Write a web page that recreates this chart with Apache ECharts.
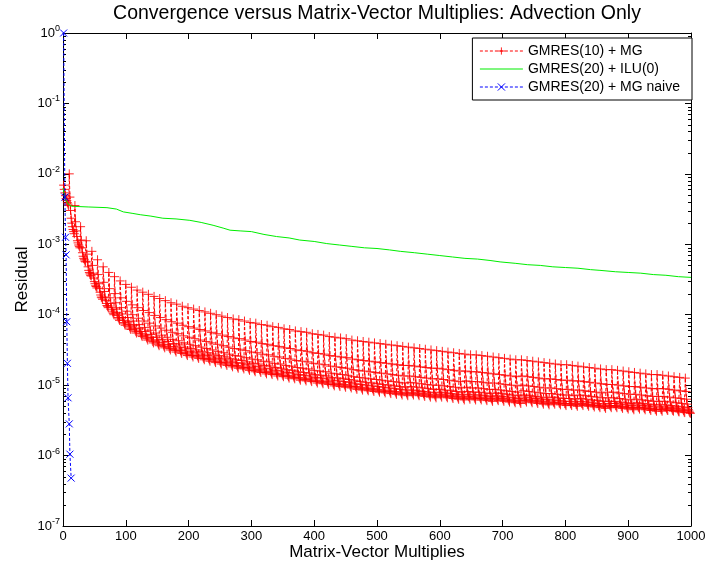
<!DOCTYPE html>
<html>
<head>
<meta charset="utf-8">
<script src="https://cdn.jsdelivr.net/npm/echarts@6/dist/echarts.min.js"></script>
<style>
  html, body { margin: 0; padding: 0; background: #ffffff; overflow: hidden; }
  #chart { width: 706px; height: 571px; }
</style>
</head>
<body>
<div id="chart"></div>
<script>
// GMRES(10) + MG: log10 of the residual, one row per restart cycle
// (each row holds the matrix-vector multiplies of that cycle, in order).
const mgRestartLength = 9;
const mgResidualLog10 = [
  [-2.16,-2.22,-2.27,-2.31,-2.35,-2.38,-2.41,-2.43,-2.45],
  [-2.00,-2.33,-2.52,-2.63,-2.70,-2.75,-2.79,-2.82,-2.85],
  [-2.45,-2.68,-2.81,-2.89,-2.95,-2.98,-3.01,-3.03,-3.05],
  [-2.75,-2.94,-3.05,-3.12,-3.17,-3.20,-3.22,-3.24,-3.25],
  [-2.95,-3.14,-3.25,-3.32,-3.37,-3.40,-3.42,-3.44,-3.45],
  [-3.10,-3.30,-3.41,-3.48,-3.53,-3.56,-3.59,-3.60,-3.62],
  [-3.22,-3.43,-3.56,-3.63,-3.68,-3.72,-3.75,-3.76,-3.78],
  [-3.32,-3.54,-3.67,-3.75,-3.80,-3.84,-3.87,-3.88,-3.90],
  [-3.40,-3.63,-3.76,-3.84,-3.90,-3.93,-3.96,-3.98,-4.00],
  [-3.46,-3.70,-3.83,-3.92,-3.97,-4.01,-4.04,-4.06,-4.08],
  [-3.52,-3.76,-3.90,-3.99,-4.04,-4.08,-4.11,-4.13,-4.15],
  [-3.57,-3.81,-3.95,-4.04,-4.10,-4.14,-4.17,-4.19,-4.21],
  [-3.61,-3.86,-4.00,-4.09,-4.15,-4.19,-4.22,-4.24,-4.26],
  [-3.65,-3.90,-4.05,-4.14,-4.20,-4.24,-4.27,-4.29,-4.31],
  [-3.68,-3.94,-4.09,-4.18,-4.24,-4.29,-4.32,-4.34,-4.36],
  [-3.71,-3.97,-4.12,-4.22,-4.28,-4.32,-4.36,-4.38,-4.40],
  [-3.74,-4.01,-4.16,-4.26,-4.32,-4.36,-4.40,-4.42,-4.44],
  [-3.77,-4.04,-4.19,-4.29,-4.35,-4.39,-4.43,-4.45,-4.47],
  [-3.80,-4.07,-4.22,-4.32,-4.38,-4.42,-4.46,-4.48,-4.50],
  [-3.83,-4.10,-4.25,-4.35,-4.41,-4.45,-4.49,-4.51,-4.53],
  [-3.85,-4.12,-4.27,-4.37,-4.43,-4.47,-4.51,-4.53,-4.55],
  [-3.88,-4.15,-4.30,-4.40,-4.46,-4.50,-4.54,-4.56,-4.58],
  [-3.90,-4.17,-4.32,-4.42,-4.48,-4.52,-4.56,-4.58,-4.60],
  [-3.92,-4.19,-4.34,-4.44,-4.50,-4.54,-4.58,-4.60,-4.62],
  [-3.94,-4.21,-4.36,-4.46,-4.52,-4.56,-4.60,-4.62,-4.64],
  [-3.96,-4.23,-4.38,-4.48,-4.54,-4.58,-4.62,-4.64,-4.66],
  [-3.98,-4.25,-4.40,-4.50,-4.56,-4.60,-4.64,-4.66,-4.68],
  [-4.00,-4.27,-4.42,-4.52,-4.58,-4.62,-4.66,-4.68,-4.70],
  [-4.02,-4.29,-4.44,-4.54,-4.60,-4.64,-4.68,-4.70,-4.72],
  [-4.04,-4.31,-4.46,-4.56,-4.62,-4.66,-4.70,-4.72,-4.74],
  [-4.06,-4.33,-4.48,-4.58,-4.64,-4.68,-4.72,-4.74,-4.76],
  [-4.07,-4.34,-4.49,-4.59,-4.65,-4.69,-4.73,-4.75,-4.77],
  [-4.09,-4.36,-4.51,-4.61,-4.67,-4.71,-4.75,-4.77,-4.79],
  [-4.11,-4.38,-4.53,-4.63,-4.69,-4.73,-4.77,-4.79,-4.81],
  [-4.12,-4.39,-4.54,-4.64,-4.70,-4.74,-4.78,-4.80,-4.82],
  [-4.14,-4.41,-4.56,-4.66,-4.72,-4.76,-4.80,-4.82,-4.84],
  [-4.15,-4.42,-4.57,-4.67,-4.73,-4.77,-4.81,-4.83,-4.85],
  [-4.17,-4.44,-4.59,-4.69,-4.75,-4.79,-4.83,-4.85,-4.87],
  [-4.18,-4.45,-4.60,-4.70,-4.76,-4.80,-4.84,-4.86,-4.88],
  [-4.20,-4.47,-4.62,-4.72,-4.78,-4.82,-4.86,-4.88,-4.90],
  [-4.21,-4.48,-4.63,-4.73,-4.79,-4.83,-4.87,-4.89,-4.91],
  [-4.23,-4.50,-4.65,-4.75,-4.81,-4.85,-4.89,-4.91,-4.93],
  [-4.24,-4.51,-4.66,-4.76,-4.82,-4.86,-4.90,-4.92,-4.94],
  [-4.25,-4.52,-4.67,-4.77,-4.83,-4.87,-4.91,-4.93,-4.95],
  [-4.27,-4.54,-4.69,-4.79,-4.85,-4.89,-4.93,-4.95,-4.97],
  [-4.28,-4.55,-4.70,-4.80,-4.86,-4.90,-4.94,-4.96,-4.98],
  [-4.29,-4.56,-4.71,-4.81,-4.87,-4.91,-4.95,-4.97,-4.99],
  [-4.31,-4.58,-4.73,-4.83,-4.89,-4.93,-4.97,-4.99,-5.01],
  [-4.32,-4.59,-4.74,-4.84,-4.90,-4.94,-4.98,-5.00,-5.02],
  [-4.33,-4.60,-4.75,-4.85,-4.91,-4.95,-4.99,-5.01,-5.03],
  [-4.34,-4.61,-4.76,-4.86,-4.92,-4.96,-5.00,-5.02,-5.04],
  [-4.36,-4.63,-4.78,-4.88,-4.94,-4.98,-5.02,-5.04,-5.06],
  [-4.37,-4.64,-4.79,-4.89,-4.95,-4.99,-5.03,-5.05,-5.07],
  [-4.38,-4.65,-4.80,-4.90,-4.96,-5.00,-5.04,-5.06,-5.08],
  [-4.39,-4.66,-4.81,-4.91,-4.97,-5.01,-5.05,-5.07,-5.09],
  [-4.40,-4.67,-4.82,-4.92,-4.98,-5.02,-5.06,-5.08,-5.10],
  [-4.41,-4.68,-4.83,-4.93,-4.99,-5.03,-5.07,-5.09,-5.11],
  [-4.42,-4.69,-4.84,-4.94,-5.00,-5.04,-5.08,-5.10,-5.12],
  [-4.43,-4.70,-4.85,-4.95,-5.01,-5.05,-5.09,-5.11,-5.13],
  [-4.44,-4.71,-4.86,-4.96,-5.02,-5.06,-5.10,-5.12,-5.14],
  [-4.45,-4.72,-4.87,-4.97,-5.03,-5.07,-5.11,-5.13,-5.15],
  [-4.46,-4.72,-4.87,-4.96,-5.02,-5.07,-5.10,-5.12,-5.14],
  [-4.47,-4.73,-4.88,-4.97,-5.03,-5.08,-5.11,-5.13,-5.15],
  [-4.48,-4.74,-4.89,-4.98,-5.04,-5.09,-5.12,-5.14,-5.16],
  [-4.49,-4.75,-4.90,-4.99,-5.05,-5.10,-5.13,-5.15,-5.17],
  [-4.50,-4.76,-4.91,-5.00,-5.06,-5.11,-5.14,-5.16,-5.18],
  [-4.51,-4.76,-4.91,-5.00,-5.06,-5.10,-5.13,-5.15,-5.17],
  [-4.52,-4.77,-4.92,-5.01,-5.07,-5.11,-5.14,-5.16,-5.18],
  [-4.53,-4.78,-4.93,-5.02,-5.08,-5.12,-5.15,-5.17,-5.19],
  [-4.54,-4.79,-4.94,-5.03,-5.09,-5.13,-5.16,-5.18,-5.20],
  [-4.55,-4.80,-4.95,-5.04,-5.10,-5.14,-5.17,-5.19,-5.21],
  [-4.56,-4.80,-4.94,-5.03,-5.09,-5.13,-5.16,-5.18,-5.20],
  [-4.57,-4.81,-4.95,-5.04,-5.10,-5.14,-5.17,-5.19,-5.21],
  [-4.57,-4.81,-4.95,-5.04,-5.10,-5.14,-5.17,-5.19,-5.21],
  [-4.58,-4.82,-4.96,-5.05,-5.11,-5.15,-5.18,-5.20,-5.22],
  [-4.59,-4.83,-4.97,-5.06,-5.12,-5.16,-5.19,-5.21,-5.23],
  [-4.60,-4.84,-4.97,-5.06,-5.11,-5.15,-5.18,-5.20,-5.22],
  [-4.61,-4.85,-4.98,-5.07,-5.12,-5.16,-5.19,-5.21,-5.23],
  [-4.62,-4.86,-4.99,-5.08,-5.13,-5.17,-5.20,-5.22,-5.24],
  [-4.63,-4.87,-5.00,-5.09,-5.14,-5.18,-5.21,-5.23,-5.25],
  [-4.64,-4.88,-5.01,-5.10,-5.15,-5.19,-5.22,-5.24,-5.26],
  [-4.64,-4.87,-5.00,-5.08,-5.14,-5.17,-5.20,-5.22,-5.24],
  [-4.65,-4.88,-5.01,-5.09,-5.15,-5.18,-5.21,-5.23,-5.25],
  [-4.66,-4.89,-5.02,-5.10,-5.16,-5.19,-5.22,-5.24,-5.26],
  [-4.67,-4.90,-5.03,-5.11,-5.17,-5.20,-5.23,-5.25,-5.27],
  [-4.68,-4.91,-5.04,-5.12,-5.18,-5.21,-5.24,-5.26,-5.28],
  [-4.69,-4.91,-5.04,-5.12,-5.17,-5.21,-5.24,-5.25,-5.27],
  [-4.70,-4.92,-5.05,-5.13,-5.18,-5.22,-5.25,-5.26,-5.28],
  [-4.71,-4.93,-5.06,-5.14,-5.19,-5.23,-5.26,-5.27,-5.29],
  [-4.71,-4.93,-5.06,-5.14,-5.19,-5.23,-5.26,-5.27,-5.29],
  [-4.72,-4.94,-5.07,-5.15,-5.20,-5.24,-5.27,-5.28,-5.30],
  [-4.73,-4.94,-5.07,-5.14,-5.19,-5.23,-5.26,-5.27,-5.29],
  [-4.74,-4.95,-5.08,-5.15,-5.20,-5.24,-5.27,-5.28,-5.30],
  [-4.75,-4.96,-5.09,-5.16,-5.21,-5.25,-5.28,-5.29,-5.31],
  [-4.76,-4.97,-5.10,-5.17,-5.22,-5.26,-5.29,-5.30,-5.32],
  [-4.77,-4.98,-5.11,-5.18,-5.23,-5.27,-5.30,-5.31,-5.33],
  [-4.78,-4.99,-5.10,-5.18,-5.23,-5.26,-5.29,-5.30,-5.32],
  [-4.78,-4.99,-5.10,-5.18,-5.23,-5.26,-5.29,-5.30,-5.32],
  [-4.79,-5.00,-5.11,-5.19,-5.24,-5.27,-5.30,-5.31,-5.33],
  [-4.80,-5.01,-5.12,-5.20,-5.25,-5.28,-5.31,-5.32,-5.34],
  [-4.81,-5.02,-5.13,-5.21,-5.26,-5.29,-5.32,-5.33,-5.35],
  [-4.82,-5.02,-5.13,-5.20,-5.25,-5.28,-5.31,-5.32,-5.34],
  [-4.83,-5.03,-5.14,-5.21,-5.26,-5.29,-5.32,-5.33,-5.35],
  [-4.84,-5.04,-5.15,-5.22,-5.27,-5.30,-5.33,-5.34,-5.36],
  [-4.85,-5.05,-5.16,-5.23,-5.28,-5.31,-5.34,-5.35,-5.37],
  [-4.85,-5.05,-5.16,-5.23,-5.28,-5.31,-5.34,-5.35,-5.37],
  [-4.86,-5.05,-5.16,-5.23,-5.28,-5.31,-5.33,-5.35,-5.36],
  [-4.87,-5.06,-5.17,-5.24,-5.29,-5.32,-5.34,-5.36,-5.37],
  [-4.88,-5.07,-5.18,-5.25,-5.30,-5.33,-5.35,-5.37,-5.38],
  [-4.89,-5.08,-5.19,-5.26,-5.31,-5.34,-5.36,-5.38,-5.39],
  [-4.90,-5.09,-5.20,-5.27,-5.32,-5.35,-5.37,-5.39,-5.40]
];

// GMRES(20) + ILU(0): [matrix-vector multiplies, log10 residual]
const iluResidualLog10 = [
  [0,-2.20],[4,-2.36],[8,-2.43],[14,-2.46],[40,-2.47],[70,-2.48],[85,-2.50],
  [96,-2.54],[110,-2.56],[123,-2.58],[140,-2.60],[159,-2.63],[180,-2.64],
  [202,-2.66],[220,-2.69],[239,-2.73],[255,-2.77],[266,-2.80],[282,-2.81],
  [300,-2.82],[320,-2.86],[340,-2.89],[360,-2.91],[377,-2.94],[400,-2.96],
  [420,-2.99],[440,-3.01],[460,-3.03],[480,-3.05],[500,-3.06],[520,-3.08],
  [537,-3.10],[560,-3.12],[580,-3.14],[600,-3.16],[620,-3.18],[640,-3.20],
  [660,-3.21],[680,-3.23],[696,-3.25],[720,-3.27],[740,-3.29],[760,-3.30],
  [780,-3.32],[800,-3.33],[820,-3.34],[840,-3.36],[855,-3.37],[880,-3.39],
  [900,-3.40],[920,-3.41],[940,-3.43],[960,-3.44],[980,-3.46],[1000,-3.47]
];

// GMRES(20) + MG naive: [matrix-vector multiplies, log10 residual]
const naiveResidualLog10 = [
  [1,0],[3,-2.33],[4,-2.90],[5,-3.15],[6,-4.10],[7,-4.69],
  [8,-5.18],[10,-5.55],[11,-5.98],[13,-6.32]
];

const seriesNames = ['GMRES(10) + MG', 'GMRES(20) + ILU(0)', 'GMRES(20) + MG naive'];
const xTickStep = 100;
const xRange = [0, 1000];
const yRange = [1e-7, 1];

const FONT = '"Liberation Sans", Arial, Helvetica, sans-serif';

// Marker glyphs drawn as stroked paths
const plusSymbol = 'path://M0,5L10,5M5,0L5,10';
const crossSymbol = 'path://M0,0L10,10M10,0L0,10';
const plainLineIcon = 'path://M0,0h43v1h-43z';

const toPoint = ([x, e]) => [x, Math.pow(10, e)];

const mgData = [];
mgResidualLog10.forEach((row, cycle) => {
  row.forEach((e, step) => {
    mgData.push([1 + cycle * mgRestartLength + step, Math.pow(10, e)]);
  });
});
const iluData = iluResidualLog10.map(toPoint);
const naiveData = naiveResidualLog10.map(toPoint);

// Logarithmic minor tick positions (2..9 in each decade)
const minorTickData = [];
for (let e = -7; e < 0; e++) {
  for (let m = 2; m <= 9; m++) minorTickData.push([0, m * Math.pow(10, e)]);
}

const chart = echarts.init(document.getElementById('chart'), null, { renderer: 'canvas' });

const decadeLabel = (v) => {
  const p = Math.round(Math.log10(v));
  return '{b|10}{s|' + p + '}';
};

const sharedX = {
  type: 'value', min: xRange[0], max: xRange[1], interval: xTickStep,
  splitLine: { show: false },
  axisLine: { show: true, onZero: false, lineStyle: { color: '#000', width: 1 } },
  axisTick: { show: true, inside: true, length: 6, lineStyle: { color: '#000' } }
};
const sharedY = {
  type: 'log', logBase: 10, min: yRange[0], max: yRange[1], splitNumber: 7,
  splitLine: { show: false },
  minorTick: { show: false },
  axisLine: { show: true, onZero: false, lineStyle: { color: '#000', width: 1 } },
  axisTick: { show: true, inside: true, length: 6, lineStyle: { color: '#000' } }
};

chart.setOption({
  animation: false,
  backgroundColor: '#ffffff',
  graphic: [{
    type: 'text',
    x: 377, y: 14,
    style: {
      text: 'Convergence versus Matrix-Vector Multiplies: Advection Only',
      font: '19.5px ' + FONT,
      fill: '#000',
      textAlign: 'center',
      textVerticalAlign: 'middle'
    }
  }],
  grid: { left: 63, right: 15, top: 33, bottom: 45, containLabel: false, outerBoundsMode: 'none' },
  legend: {
    data: [
      { name: seriesNames[0] },
      { name: seriesNames[1], icon: plainLineIcon },
      { name: seriesNames[2] }
    ],
    orient: 'vertical',
    right: 14, top: 38,
    align: 'left',
    z: 10,
    backgroundColor: '#ffffff',
    borderColor: '#000', borderWidth: 1, borderRadius: 0,
    padding: [6, 12, 6, 7],
    itemGap: 4, itemWidth: 43, itemHeight: 9,
    lineStyle: { width: 1 },
    itemStyle: { borderWidth: 1 },
    textStyle: { fontFamily: FONT, fontSize: 14, color: '#000', lineHeight: 14 }
  },
  xAxis: [
    Object.assign({}, sharedX, {
      position: 'bottom',
      name: 'Matrix-Vector Multiplies', nameLocation: 'middle', nameGap: 18,
      nameMoveOverlap: false,
      nameTextStyle: { fontFamily: FONT, fontSize: 17, color: '#000' },
      axisLabel: { show: true, margin: 4, fontFamily: FONT, fontSize: 13, color: '#000', formatter: (v) => String(v) }
    }),
    Object.assign({}, sharedX, { position: 'top', axisLabel: { show: false } })
  ],
  yAxis: [
    Object.assign({}, sharedY, {
      position: 'left',
      name: 'Residual', nameLocation: 'middle', nameGap: 32,
      nameMoveOverlap: false,
      nameTextStyle: { fontFamily: FONT, fontSize: 17, color: '#000' },
      axisLabel: {
        show: true, margin: 3, formatter: decadeLabel,
        rich: {
          b: { fontFamily: FONT, fontSize: 13, color: '#000' },
          s: { fontFamily: FONT, fontSize: 9, color: '#000', verticalAlign: 'top', padding: [0, 0, 9, 0] }
        }
      }
    }),
    Object.assign({}, sharedY, { position: 'right', axisLabel: { show: false } })
  ],
  series: [
    {
      name: seriesNames[0], type: 'line', data: mgData,
      xAxisIndex: 0, yAxisIndex: 0,
      symbol: plusSymbol, symbolSize: 9, showSymbol: true, showAllSymbol: true,
      lineStyle: { color: '#ff0000', width: 1, type: [3, 2] },
      itemStyle: { color: '#ff0000', borderColor: '#ff0000', borderWidth: 1, opacity: 0.85 },
      emphasis: { disabled: true }, z: 2
    },
    {
      name: seriesNames[1], type: 'line', data: iluData,
      xAxisIndex: 0, yAxisIndex: 0,
      showSymbol: false, symbol: 'none',
      lineStyle: { color: '#00ee00', width: 1 },
      itemStyle: { color: '#00ee00' },
      emphasis: { disabled: true }, z: 3
    },
    {
      name: seriesNames[2], type: 'line', data: naiveData,
      xAxisIndex: 0, yAxisIndex: 0,
      symbol: crossSymbol, symbolSize: 7, showSymbol: true,
      lineStyle: { color: '#0000ff', width: 1, type: [3, 2] },
      itemStyle: { color: '#0000ff', borderColor: '#0000ff', borderWidth: 1 },
      emphasis: { disabled: true }, z: 4
    },
    {
      // minor ticks on the left and right frame edges of the log axis
      type: 'custom', data: minorTickData, xAxisIndex: 0, yAxisIndex: 0,
      silent: true, clip: false, z: 1,
      encode: { x: 0, y: 1 },
      renderItem: (params, api) => {
        const v = api.value(1);
        const l = api.coord([xRange[0], v]);
        const r = api.coord([xRange[1], v]);
        const y = Math.round(l[1]) + 0.5;
        return {
          type: 'group',
          children: [
            { type: 'line', shape: { x1: l[0], y1: y, x2: l[0] + 3, y2: y }, style: { stroke: '#000', lineWidth: 1 } },
            { type: 'line', shape: { x1: r[0] - 3, y1: y, x2: r[0], y2: y }, style: { stroke: '#000', lineWidth: 1 } }
          ]
        };
      }
    }
  ]
});
</script>
</body>
</html>
